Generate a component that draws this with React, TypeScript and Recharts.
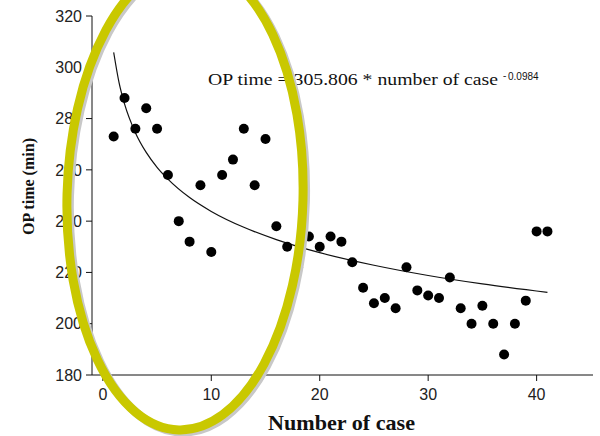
import { ComposedChart, Scatter, Line, XAxis, YAxis } from 'recharts'

const caseNo = [
  1, 2, 3, 4, 5, 6, 7, 8, 9, 10, 11, 12, 13, 14, 15, 16, 17, 18, 19, 20, 21,
  22, 23, 24, 25, 26, 27, 28, 29, 30, 31, 32, 33, 34, 35, 36, 37, 38, 39, 40, 41,
]
const opTime = [
  273, 288, 276, 284, 276, 258, 240, 232, 254, 228, 258, 264, 276, 254, 272, 238, 230, 222, 234, 230, 234,
  232, 224, 214, 208, 210, 206, 222, 213, 211, 210, 218, 206, 200, 207, 200, 188, 200, 209, 236, 236,
]

// fitted power curve, read at a few points along the line
const fitCase = [1, 1.5, 2, 3, 4, 5, 6, 8, 10, 13, 16, 20, 25, 30, 35, 41]
const fitTime = [305.8, 293.9, 285.7, 274.5, 266.8, 261, 256.4, 249.2, 243.8, 237.6, 232.8, 227.7, 222.8, 218.8, 215.5, 212.2]

const xTicks = [0, 10, 20, 30, 40]
const yTicks = [180, 200, 220, 240, 260, 280, 300, 320]

const points = caseNo.map((c, i) => ({ x: c, y: opTime[i] }))
const fit = fitCase.map((c, i) => ({ x: c, fit: fitTime[i] }))

const tickStyle = { fill: '#222', fontSize: 16, fontFamily: '"Liberation Sans", Arial, sans-serif' }

export default function App() {
  return (
    <div style={{ position: 'absolute', left: 0, top: 0, width: 600, height: 436, background: '#fff' }}>
      <ComposedChart width={600} height={436} margin={{ top: 16, right: 7, bottom: 31, left: 40 }}>
        <XAxis
          type="number" dataKey="x" domain={[-1, 45.2]} ticks={xTicks}
          allowDataOverflow height={30} tickSize={6} tickMargin={8}
          stroke="#111" tick={tickStyle} allowDuplicatedCategory={false}
        />
        <YAxis
          type="number" domain={[180, 320]} ticks={yTicks} width={52}
          tickSize={6} tickMargin={4} stroke="#111" tick={tickStyle}
        />
        <Line
          data={fit} dataKey="fit" type="monotone" stroke="#111" strokeWidth={1.2}
          dot={false} activeDot={false} isAnimationActive={false}
        />
        <Scatter
          data={points} dataKey="y" fill="#000" isAnimationActive={false}
          shape={(p: any) => <circle cx={p.cx} cy={p.cy} r={5} fill="#000" />}
        />
      </ComposedChart>

      <svg width={600} height={436} style={{ position: 'absolute', left: 0, top: 0, pointerEvents: 'none' }}>
        <text x={208} y={85} fontFamily='"Liberation Serif", "Times New Roman", serif' fontSize={16.5}
          textLength={290} lengthAdjust="spacingAndGlyphs" fill="#111">
          OP time = 305.806 * number of case
        </text>
        <text x={503} y={79} fontFamily='"Liberation Serif", serif' fontSize={10} fill="#111">-</text>
        <text x={508} y={80} fontFamily='"Liberation Sans", Arial, sans-serif' fontSize={10} fill="#111">0.0984</text>

        <text transform="translate(34 186.5) rotate(-90)" textAnchor="middle"
          fontFamily='"Liberation Serif", "Times New Roman", serif' fontWeight="bold" fontSize={17}
          textLength={97} lengthAdjust="spacingAndGlyphs" fill="#111">
          OP time (min)
        </text>
        <text x={268} y={430} fontFamily='"Liberation Serif", "Times New Roman", serif' fontWeight="bold"
          fontSize={21} textLength={147} lengthAdjust="spacingAndGlyphs" fill="#111">
          Number of case
        </text>

        <g transform="rotate(1.5 185 197)">
          <ellipse cx={187.5} cy={199} rx={118} ry={233} fill="none" stroke="#c8c8c8" strokeWidth={9} />
          <ellipse cx={185} cy={197} rx={118} ry={233} fill="none" stroke="#c9c800" strokeWidth={9} />
        </g>
      </svg>
    </div>
  )
}
